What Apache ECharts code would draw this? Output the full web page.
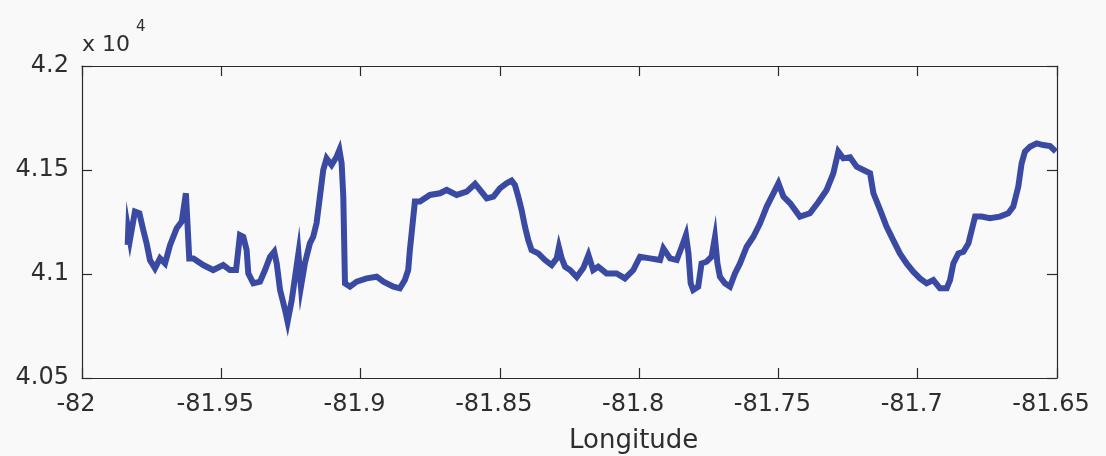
<!DOCTYPE html>
<html>
<head>
<meta charset="utf-8">
<script src="https://cdn.jsdelivr.net/npm/echarts@6/dist/echarts.min.js"></script>
<style>
html,body{margin:0;padding:0;background:#f9f9f9;}
#chart{width:1106px;height:456px;}
</style>
</head>
<body>
<div id="chart"></div>
<script>
const longitude = [
-81.9836,-81.9834,-81.9828,-81.9810,-81.9794,-81.9780,-81.9768,-81.9756,-81.9738,-81.9720,
-81.9702,-81.9684,-81.9660,-81.9642,-81.9627,-81.9622,-81.9615,-81.9600,-81.9565,-81.9529,
-81.9493,-81.9469,-81.9447,-81.9433,-81.9421,-81.9409,-81.9403,-81.9385,-81.9361,-81.9343,
-81.9325,-81.9310,-81.9301,-81.9289,-81.9271,-81.9262,-81.9247,-81.9235,-81.9223,-81.9214,
-81.9200,-81.9182,-81.9170,-81.9158,-81.9146,-81.9134,-81.9122,-81.9104,-81.9086,-81.9076,
-81.9068,-81.9062,-81.9056,-81.9038,-81.9014,-81.8978,-81.8942,-81.8918,-81.8882,-81.8859,
-81.8841,-81.8829,-81.8823,-81.8813,-81.8805,-81.8787,-81.8751,-81.8715,-81.8691,-81.8655,
-81.8619,-81.8589,-81.8571,-81.8547,-81.8523,-81.8500,-81.8476,-81.8458,-81.8446,-81.8434,
-81.8422,-81.8410,-81.8398,-81.8386,-81.8362,-81.8338,-81.8314,-81.8296,-81.8288,-81.8278,
-81.8266,-81.8248,-81.8224,-81.8200,-81.8182,-81.8165,-81.8147,-81.8117,-81.8081,-81.8051,
-81.8021,-81.7997,-81.7961,-81.7925,-81.7913,-81.7889,-81.7865,-81.7847,-81.7832,-81.7823,
-81.7815,-81.7806,-81.7788,-81.7776,-81.7758,-81.7740,-81.7728,-81.7719,-81.7710,-81.7692,
-81.7674,-81.7656,-81.7638,-81.7614,-81.7590,-81.7566,-81.7542,-81.7518,-81.7500,-81.7482,
-81.7458,-81.7423,-81.7387,-81.7357,-81.7327,-81.7303,-81.7285,-81.7267,-81.7243,-81.7219,
-81.7195,-81.7171,-81.7159,-81.7135,-81.7112,-81.7088,-81.7064,-81.7040,-81.7016,-81.6992,
-81.6968,-81.6944,-81.6920,-81.6896,-81.6884,-81.6872,-81.6854,-81.6836,-81.6818,-81.6806,
-81.6794,-81.6771,-81.6741,-81.6705,-81.6675,-81.6657,-81.6639,-81.6627,-81.6615,-81.6597,
-81.6573,-81.6549,-81.6525,-81.6504
];
const values = [
41140,41211,41163,41300,41292,41211,41147,41067,41027,41075,
41051,41139,41220,41252,41388,41260,41075,41075,41043,41019,
41043,41019,41019,41187,41179,41115,41003,40955,40963,41019,
41083,41107,41051,40923,40827,40771,40875,40987,41099,40939,
41051,41147,41179,41244,41372,41500,41556,41524,41564,41596,
41532,41372,40955,40939,40963,40979,40987,40963,40939,40931,
40971,41019,41115,41244,41348,41348,41380,41388,41404,41380,
41396,41433,41404,41364,41372,41412,41436,41449,41428,41372,
41308,41228,41163,41115,41099,41067,41043,41075,41128,41075,
41035,41019,40985,41030,41091,41019,41035,41003,41003,40979,
41019,41083,41075,41067,41123,41075,41067,41131,41187,41099,
40955,40923,40939,41051,41059,41083,41176,41051,40987,40955,
40939,41003,41051,41131,41179,41244,41324,41388,41436,41372,
41340,41276,41292,41345,41404,41484,41588,41556,41561,41516,
41500,41484,41388,41308,41228,41163,41099,41051,41011,40979,
40955,40971,40931,40931,40971,41051,41099,41107,41147,41212,
41276,41276,41268,41276,41292,41324,41420,41532,41588,41612,
41628,41620,41615,41588
];
const xTicks = [-82, -81.95, -81.9, -81.85, -81.8, -81.75, -81.7, -81.65];
const yTicks = [40500, 41000, 41500, 42000];
const yScaleExponent = 4;
const xLabelText = 'Longitude';

const points = longitude.map((x, i) => [x, values[i]]);
const font = 'DejaVu Sans';
const axisColor = '#2a2a2a';
const textColor = '#2e2e2e';

const chart = echarts.init(document.getElementById('chart'), null, {renderer: 'canvas'});
const baseX = {
  type: 'value',
  min: xTicks[0], max: xTicks[xTicks.length - 1], interval: 0.05,
  axisLine: {show: true, onZero: false, lineStyle: {color: axisColor, width: 1.2}},
  axisTick: {show: true, inside: true, length: 10, lineStyle: {color: axisColor, width: 1.2}},
  splitLine: {show: false}
};
const baseY = {
  type: 'value',
  min: yTicks[0], max: yTicks[yTicks.length - 1], interval: 500,
  axisLine: {show: true, onZero: false, lineStyle: {color: axisColor, width: 1.2}},
  axisTick: {show: true, inside: true, length: 10, lineStyle: {color: axisColor, width: 1.2}},
  splitLine: {show: false}
};
chart.setOption({
  backgroundColor: '#f9f9f9',
  animation: false,
  grid: {left: 82, right: 49, top: 66, bottom: 78, containLabel: false},
  xAxis: [
    Object.assign({}, baseX, {
      position: 'bottom',
      axisLabel: {
        show: true, margin: 15, fontFamily: font, fontSize: 24, color: textColor,
        padding: [0, 12, 0, 0],
        formatter: v => String(+v.toFixed(2))
      }
    }),
    Object.assign({}, baseX, {position: 'top', axisLabel: {show: false}})
  ],
  yAxis: [
    Object.assign({}, baseY, {
      position: 'left',
      axisLabel: {
        show: true, margin: 13, fontFamily: font, fontSize: 24, color: textColor,
        formatter: v => String(+(v / Math.pow(10, yScaleExponent)).toFixed(2))
      }
    }),
    Object.assign({}, baseY, {position: 'right', axisLabel: {show: false}})
  ],
  series: [{
    type: 'line',
    data: points,
    xAxisIndex: 0, yAxisIndex: 0,
    showSymbol: false,
    symbol: 'none',
    lineStyle: {color: '#3a4aa3', width: 6, join: 'miter'},
    z: 1
  }],
  graphic: [
    {type: 'text', left: 82, top: 34, style: {text: 'x 10', fontFamily: font, fontSize: 22, fill: textColor}},
    {type: 'text', left: 136, top: 20, style: {text: String(yScaleExponent), fontFamily: font, fontSize: 15, fill: textColor}},
    {type: 'text', left: 569, top: 428, style: {text: xLabelText, fontFamily: font, fontSize: 26, fill: textColor, align: 'center'}}
  ]
});
</script>
</body>
</html>
